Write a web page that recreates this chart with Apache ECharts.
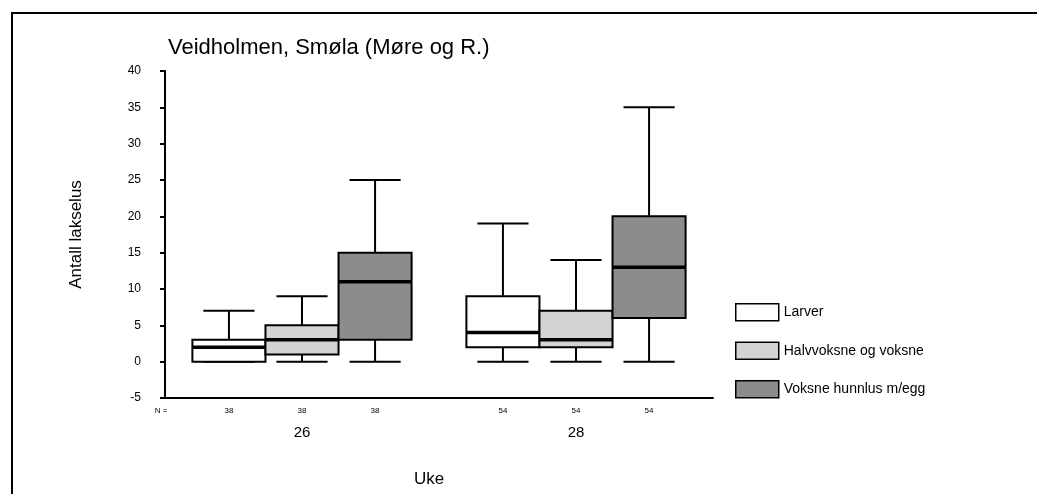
<!DOCTYPE html>
<html>
<head>
<meta charset="utf-8">
<script src="https://cdn.jsdelivr.net/npm/echarts@6/dist/echarts.min.js"></script>
<style>
  html, body { margin: 0; padding: 0; background: #fff; }
  #chart { width: 1037px; height: 494px; }
</style>
</head>
<body>
<div id="chart"></div>
<script>
// Week numbers on the x axis
const weeks = ['26', '28'];
// Number of fish sampled per week
const sampleSizes = [38, 54];
// Box statistics per week: [min, Q1, median, Q3, max]
const larver = [[0, 0, 2, 3, 7], [0, 2, 4, 9, 19]];
const halvvoksne = [[0, 1, 3, 5, 9], [0, 2, 3, 7, 14]];
const voksneHunnlus = [[0, 3, 11, 15, 25], [0, 6, 13, 20, 35]];
const yTicks = [-5, 0, 5, 10, 15, 20, 25, 30, 35, 40];

const groups = [
  { name: 'Larver', stats: larver, color: '#ffffff' },
  { name: 'Halvvoksne og voksne', stats: halvvoksne, color: '#d3d3d3' },
  { name: 'Voksne hunnlus m/egg', stats: voksneHunnlus, color: '#8c8c8c' }
];

const FONT = '"Liberation Sans", Arial, sans-serif';

function makeRenderer(slot, fill) {
  return function (params, api) {
    const cat = api.value(0);
    const band = api.size([1, 0])[0];
    const boxW = band * 0.8 / 3;
    const center = api.coord([cat, 0])[0] + (slot - 1) * boxW;
    const yMin = api.coord([cat, api.value(1)])[1];
    const yQ1 = api.coord([cat, api.value(2)])[1];
    const yMed = api.coord([cat, api.value(3)])[1];
    const yQ3 = api.coord([cat, api.value(4)])[1];
    const yMax = api.coord([cat, api.value(5)])[1];
    const yBase = api.coord([cat, -5])[1];
    const capHalf = boxW * 0.35;
    const line = { stroke: '#000', lineWidth: 2 };
    return {
      type: 'group',
      children: [
        { type: 'line', shape: { x1: center, y1: yQ3, x2: center, y2: yMax }, style: line },
        { type: 'line', shape: { x1: center - capHalf, y1: yMax, x2: center + capHalf, y2: yMax }, style: line },
        { type: 'line', shape: { x1: center, y1: yMin, x2: center, y2: yQ1 }, style: line },
        { type: 'line', shape: { x1: center - capHalf, y1: yMin, x2: center + capHalf, y2: yMin }, style: line },
        { type: 'rect', shape: { x: center - boxW / 2, y: yQ3, width: boxW, height: yQ1 - yQ3 },
          style: { fill: fill, stroke: '#000', lineWidth: 2 } },
        { type: 'line', shape: { x1: center - boxW / 2, y1: yMed, x2: center + boxW / 2, y2: yMed },
          style: { stroke: '#000', lineWidth: 3.5 } },
        { type: 'text', x: center, y: yBase + 13,
          style: { text: String(sampleSizes[cat]), fill: '#000', font: '8px ' + FONT, align: 'center', verticalAlign: 'middle' } }
      ]
    };
  };
}

const series = groups.map((g, i) => ({
  name: g.name,
  type: 'custom',
  renderItem: makeRenderer(i, g.color),
  itemStyle: { color: g.color, borderColor: '#000', borderWidth: 1.5 },
  encode: { x: 0, y: [1, 2, 3, 4, 5] },
  data: g.stats.map((s, k) => [k].concat(s)),
  clip: false,
  silent: true
}));

const chart = echarts.init(document.getElementById('chart'), null, { renderer: 'canvas' });
chart.setOption({
  animation: false,
  backgroundColor: '#fff',
  title: {
    text: 'Veidholmen, Smøla (Møre og R.)',
    left: 163, top: 32,
    textStyle: { fontFamily: FONT, fontSize: 22, fontWeight: 'normal', color: '#000' }
  },
  legend: {
    orient: 'vertical',
    left: 730, top: 298,
    itemWidth: 43, itemHeight: 17, itemGap: 20,
    icon: 'rect',
    textStyle: { fontFamily: FONT, fontSize: 14, color: '#000', lineHeight: 17 },
    data: groups.map(g => ({ name: g.name, itemStyle: { color: g.color, borderColor: '#000', borderWidth: 1.5 } }))
  },
  grid: { left: 165, right: 324, top: 71, bottom: 96, outerBoundsMode: 'none', containLabel: false },
  xAxis: {
    type: 'category',
    data: weeks,
    boundaryGap: true,
    name: 'Uke',
    nameLocation: 'middle',
    nameGap: 73,
    nameTextStyle: { fontFamily: FONT, fontSize: 17, color: '#000', padding: [0, 20, 0, 0] },
    axisLine: { onZero: false, lineStyle: { color: '#000', width: 2 } },
    axisTick: { alignWithLabel: true, length: 4, lineStyle: { color: '#000', width: 2 } },
    axisLabel: { margin: 27, fontFamily: FONT, fontSize: 15, color: '#000' },
    splitLine: { show: false }
  },
  yAxis: {
    type: 'value',
    min: yTicks[0], max: yTicks[yTicks.length - 1], interval: 5,
    name: 'Antall lakselus',
    nameLocation: 'middle',
    nameGap: 80,
    nameRotate: 90,
    nameTextStyle: { fontFamily: FONT, fontSize: 17, color: '#000' },
    axisLine: { show: true, lineStyle: { color: '#000', width: 2 } },
    axisTick: { show: true, length: 5, lineStyle: { color: '#000', width: 2 } },
    axisLabel: { margin: 24, fontFamily: FONT, fontSize: 12, color: '#000' },
    splitLine: { show: false }
  },
  graphic: [
    { type: 'rect', shape: { x: 12, y: 13, width: 1100, height: 600 },
      style: { fill: 'none', stroke: '#000', lineWidth: 2 }, silent: true },
    { type: 'text', x: 161, y: 411,
      style: { text: 'N =', fill: '#000', font: '8px ' + FONT, align: 'center', verticalAlign: 'middle' } }
  ],
  series: series
});
</script>
</body>
</html>
